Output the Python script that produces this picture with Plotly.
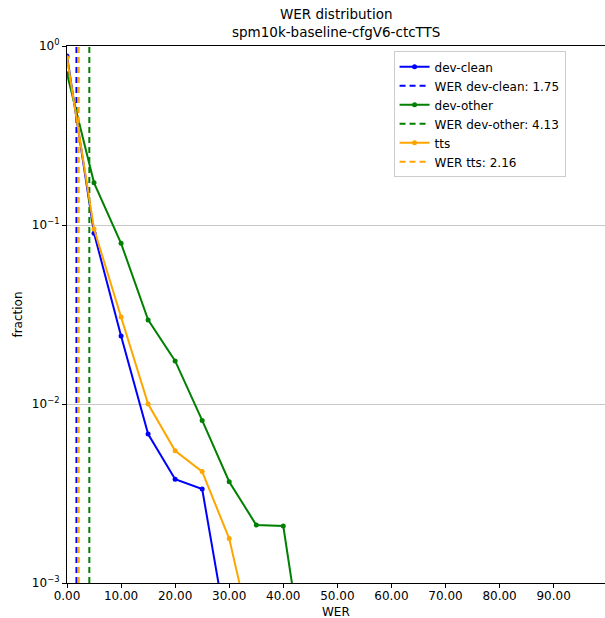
import plotly.graph_objects as go

# Data
wer_bins = [0, 5, 10, 15, 20, 25, 30, 35, 40, 45]
dev_clean = [0.88, 0.090, 0.024, 0.0068, 0.0038, 0.00335, 0.00045]
dev_other = [0.70, 0.172, 0.079, 0.0295, 0.0174, 0.0081, 0.00368, 0.00211, 0.00208, 0.00021]
tts = [0.86, 0.095, 0.0306, 0.0100, 0.00548, 0.00419, 0.00177, 0.00039]
wer_values = {"dev-clean": 1.75, "dev-other": 4.13, "tts": 2.16}
colors = {"dev-clean": "#0000ff", "dev-other": "#008000", "tts": "#ffa500"}
series = {"dev-clean": dev_clean, "dev-other": dev_other, "tts": tts}

y_range = [1e-3, 1.0]
x_ticks = [0, 10, 20, 30, 40, 50, 60, 70, 80, 90]
x_tick_labels = [f"{v:.2f}" for v in x_ticks]
y_ticks = [1e-3, 1e-2, 1e-1, 1e0]
y_tick_labels = ["10<sup>−3</sup>", "10<sup>−2</sup>", "10<sup>−1</sup>", "10<sup>0</sup>"]
title_text = "WER distribution<br>spm10k-baseline-cfgV6-ctcTTS"
x_title = "WER"
y_title = "fraction"

fig = go.Figure()
for name, vals in series.items():
    c = colors[name]
    fig.add_trace(go.Scatter(
        x=wer_bins[:len(vals)], y=vals, mode="lines+markers", name=name,
        line=dict(color=c, width=2), marker=dict(color=c, size=5),
    ))
    w = wer_values[name]
    fig.add_trace(go.Scatter(
        x=[w, w], y=y_range, mode="lines", name=f"WER {name}: {w:.2f}",
        line=dict(color=c, width=2, dash="6px,4px"),
    ))

font = "DejaVu Sans, Arial, sans-serif"
fig.update_layout(
    width=605, height=618,
    margin=dict(l=67, r=0, t=46, b=35, autoexpand=False),
    plot_bgcolor="white", paper_bgcolor="white",
    font=dict(family=font, size=12, color="black"),
    showlegend=True,
    legend=dict(x=0.607, y=0.99, xanchor="left", yanchor="top",
                bgcolor="white", bordercolor="#cccccc", borderwidth=1,
                font=dict(size=12, family=font), tracegroupgap=0, itemwidth=30),
    annotations=[
        dict(text=title_text, xref="paper", yref="paper", x=0.5, y=1,
             xanchor="center", yanchor="bottom", yshift=4, showarrow=False,
             font=dict(size=13.5, family=font)),
        dict(text=x_title, xref="paper", yref="paper", x=0.5, y=0,
             xanchor="center", yanchor="middle", yshift=-29, showarrow=False,
             font=dict(size=12, family=font)),
    ],
)
fig.update_xaxes(
    range=[0, 99.5], tickvals=x_ticks, ticktext=x_tick_labels, automargin=False,
    showgrid=False, zeroline=False, showline=True, linecolor="black", linewidth=1.2,
    mirror=True, ticks="outside", ticklen=4, tickcolor="black",
    tickfont=dict(size=12), ticklabelstandoff=-3,
)
fig.update_yaxes(
    type="log", range=[-3, 0], tickvals=y_ticks, ticktext=y_tick_labels, automargin=False,
    showgrid=True, gridcolor="#c8c8c8", gridwidth=1, zeroline=False,
    showline=True, linecolor="black", linewidth=1.2,
    ticks="outside", ticklen=4, tickcolor="black",
    tickfont=dict(size=12),
    title=dict(text=y_title, standoff=6, font=dict(size=12)),
)
fig.write_html("out.html")
